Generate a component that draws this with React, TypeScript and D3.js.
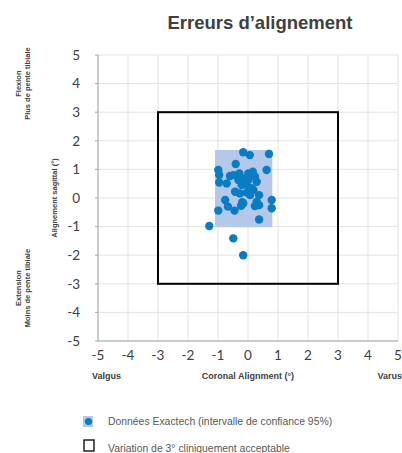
import React from "react";
import * as d3 from "d3";

// coronal (x) and sagittal (y) alignment error of each case, in degrees
const coronal = [
  -0.16, 0.06, 0.7, -0.41, -0.99, -0.96, -0.96, -0.71, -0.6, -0.29, -0.32, 0.01,
  0.16, 0.23, 0.29, 0.62, -0.04, 0.12, -0.21, -0.43, -0.27, -0.04, 0.18, 0.37,
  0.79, 0.79, -0.76, -0.67, -0.99, -0.45, -0.19, -0.23, 0.23, 0.37, 0.29, 0.37,
  -1.29, -0.49, -0.16, 0.01, -0.11, -0.49, 0.07, -0.16,
];
const sagittal = [
  1.6, 1.5, 1.54, 1.19, 0.98, 0.8, 0.54, 0.51, 0.77, 0.86, 0.63, 0.86,
  0.92, 0.75, 0.57, 0.98, 0.45, 0.34, 0.45, 0.22, 0.16, 0.19, 0.28, 0.1,
  -0.07, -0.36, -0.07, -0.3, -0.44, -0.44, -0.15, -0.27, -0.28, -0.25, -0.13, -0.75,
  -0.98, -1.41, -2.0, 0.63, 0.68, 0.8, 0.1, -0.19,
];
// 95% confidence box [xmin, xmax], [ymin, ymax]
const ciX = [-1.1, 0.81];
const ciY = [-1.02, 1.68];
// clinically acceptable range
const acceptable = [-3, 3];
const ticks = [-5, -4, -3, -2, -1, 0, 1, 2, 3, 4, 5];

const W = 402;
const H = 453;
const blue = "#0a7cc4";
const ciFill = "#b4c8ea";
const textCol = "#404040";

export default function App() {
  const x = d3.scaleLinear().domain([-5, 5]).range([98, 398]);
  const y = d3.scaleLinear().domain([-5, 5]).range([341, 55]);
  const pts = coronal.map((c, i) => [c, sagittal[i]]);

  return (
    <svg width={W} height={H} style={{ position: "absolute", left: 0, top: 0, background: "#fff" }}>
      {/* title */}
      <text x={260} y={29} textAnchor="middle" fontFamily="Liberation Sans, Arial" fontWeight="bold" fontSize={18.5} fill={textCol}>
        Erreurs d’alignement
      </text>

      {/* grid */}
      {ticks.map((t) => (
        <g key={"g" + t}>
          <line x1={x(t)} x2={x(t)} y1={y(5)} y2={y(-5)} stroke="#e3e3e3" />
          <line x1={x(-5)} x2={x(5)} y1={y(t)} y2={y(t)} stroke="#e3e3e3" />
          <line x1={x(-5) - 3} x2={x(-5)} y1={y(t)} y2={y(t)} stroke="#a6a6a6" />
        </g>
      ))}
      <line x1={x(-5)} x2={x(-5)} y1={y(5)} y2={y(-5)} stroke="#a6a6a6" />
      <line x1={x(-5)} x2={x(5)} y1={y(-5)} y2={y(-5)} stroke="#a6a6a6" />

      {/* confidence box */}
      <rect x={x(ciX[0])} y={y(ciY[1])} width={x(ciX[1]) - x(ciX[0])} height={y(ciY[0]) - y(ciY[1])} fill={ciFill} />

      {/* acceptable square */}
      <rect
        x={x(acceptable[0])}
        y={y(acceptable[1])}
        width={x(acceptable[1]) - x(acceptable[0])}
        height={y(acceptable[0]) - y(acceptable[1])}
        fill="none"
        stroke="#000"
        strokeWidth={2}
      />

      {/* points */}
      {pts.map((p, i) => (
        <circle key={i} cx={x(p[0])} cy={y(p[1])} r={4.2} fill={blue} />
      ))}

      {/* tick labels */}
      {ticks.map((t) => (
        <g key={"t" + t} fontFamily="Lato, Open Sans, sans-serif" fontSize={13.5} fill={textCol}>
          <text x={80} y={y(t)} dy="0.35em" textAnchor="end">{t}</text>
          <text x={x(t)} y={360} textAnchor="middle">{t}</text>
        </g>
      ))}

      {/* x axis titles */}
      <g fontFamily="Liberation Sans, Arial" fontWeight="bold" fontSize={9} fill={textCol}>
        <text x={92} y={379}>Valgus</text>
        <text x={248} y={379} textAnchor="middle">Coronal Alignment (°)</text>
        <text x={402} y={379} textAnchor="end">Varus</text>
      </g>

      {/* y axis titles */}
      <g fontFamily="Liberation Sans, Arial" fontWeight="bold" fontSize={7.5} fill={textCol} textAnchor="middle">
        <text transform={`translate(57,${y(0)}) rotate(-90)`}>Alignement sagittal (°)</text>
        <text transform={`translate(21,${y(4)}) rotate(-90)`}>Flexion</text>
        <text transform={`translate(30,${y(4)}) rotate(-90)`}>Plus de pente tibiale</text>
        <text transform={`translate(21,${y(-3.15)}) rotate(-90)`}>Extension</text>
        <text transform={`translate(30,${y(-3.15)}) rotate(-90)`}>Moins de pente tibiale</text>
      </g>

      {/* legend */}
      <rect x={83} y={416} width={10} height={11} fill={ciFill} />
      <circle cx={88.5} cy={421.5} r={3.6} fill={blue} />
      <text x={108} y={425} fontFamily="Liberation Sans, Arial" fontSize={10.4} fill="#595959">
        Données Exactech (intervalle de confiance 95%)
      </text>
      <rect x={84} y={440} width={10} height={11} fill="#fff" stroke="#000" strokeWidth={1.3} />
      <text x={108} y={452} fontFamily="Liberation Sans, Arial" fontSize={10.4} fill="#595959">
        Variation de 3° cliniquement acceptable
      </text>
    </svg>
  );
}
